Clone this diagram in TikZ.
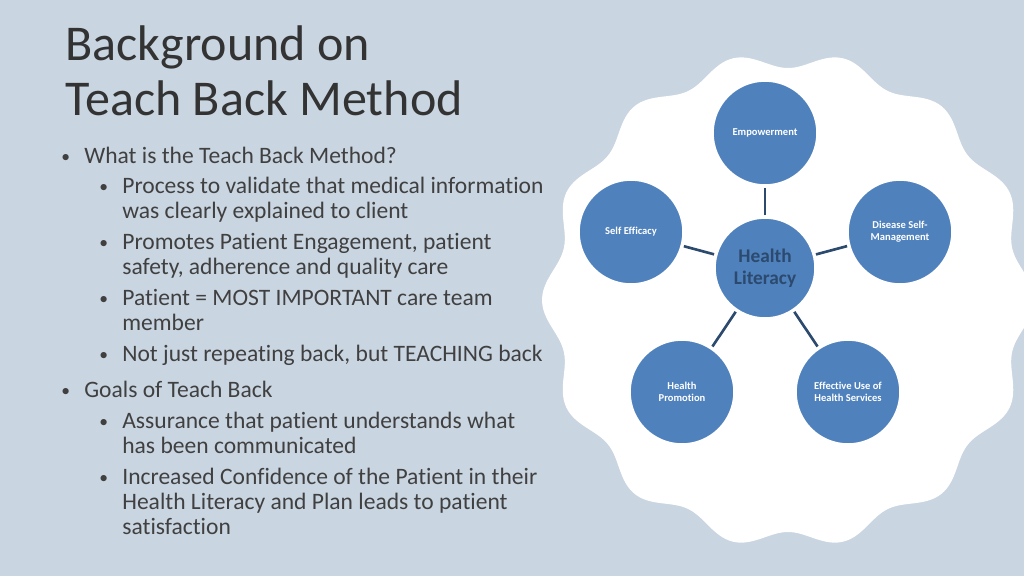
\documentclass[tikz,border=0pt]{standalone}
\usepackage{fontspec}
\setmainfont[Ligatures={NoCommon}]{Carlito}
\begin{document}
\begin{tikzpicture}[x=0.02cm,y=-0.02cm,
  txt/.style={anchor=base west,inner sep=0,font=\fontsize{13.4}{15}\selectfont,text=black!75},
  ttl/.style={anchor=base west,inner sep=0,font=\fontsize{28.5}{32}\selectfont,text=black!80},
  circ/.style={circle,fill=cb,draw=white,line width=2pt,minimum size=#1*0.04cm,align=center,text=white,font=\fontsize{6}{7}\selectfont\bfseries,inner sep=0},
  conn/.style={draw=lk,line width=1.5pt}]
\definecolor{bg}{HTML}{C9D5E1}
\definecolor{cb}{HTML}{4F81BD}
\definecolor{lk}{HTML}{2C4A6E}
\fill[bg] (0,0) rectangle (1024,576);
\useasboundingbox (0,0) rectangle (1024,576);
\begin{scope}
\clip (0,0) rectangle (1024,576);
\fill[white] plot[domain=0:360,samples=400,smooth] ({788+(238+8*cos(14*\x))*cos(\x)},{300+(240+8*cos(14*\x))*sin(\x)}) -- cycle;
\end{scope}
\node[circ=51,text=lk,font=\fontsize{11}{12.5}\selectfont\bfseries] (c) at (765,268) {Health\\Literacy};
\node[circ=53] (e) at (765,133) {Empowerment};
\node[circ=53] (s) at (631,232) {Self Efficacy};
\node[circ=53] (d) at (900,232) {Disease Self-\\Management};
\node[circ=53] (h) at (682,392) {Health\\Promotion};
\node[circ=53] (f) at (848,392) {Effective Use of\\Health Services};
\foreach \n in {e,s,d,h,f} \draw[conn] (c) -- (\n);
\node[ttl] (t1) at (65,60) {Background on};
\node[ttl] (t2) at (65,115) {Teach Back Method};
\foreach \y/\x/\b/\t [count=\i] in {
 163/84/1/{What is the Teach Back Method?},
 193/122/1/{Process to validate that medical information},
 218/122/0/{was clearly explained to client},
 249/122/1/{Promotes Patient Engagement, patient},
 274/122/0/{safety, adherence and quality care},
 305/122/1/{Patient = MOST IMPORTANT care team},
 330/122/0/{member},
 361/122/1/{Not just repeating back, but TEACHING back},
 397/84/1/{Goals of Teach Back},
 428/122/1/{Assurance that patient understands what},
 453/122/0/{has been communicated},
 484/122/1/{Increased Confidence of the Patient in their},
 509/122/0/{Health Literacy and Plan leads to patient},
 534/122/0/{satisfaction}}
 {\node[txt] (l\i) at (\x,\y) {\t};
  \ifnum\b=1 \node[txt,font=\fontsize{10}{12}\selectfont] (b\i) at (\x-23,\y-1) {•};\fi}
\end{tikzpicture}
\end{document}
